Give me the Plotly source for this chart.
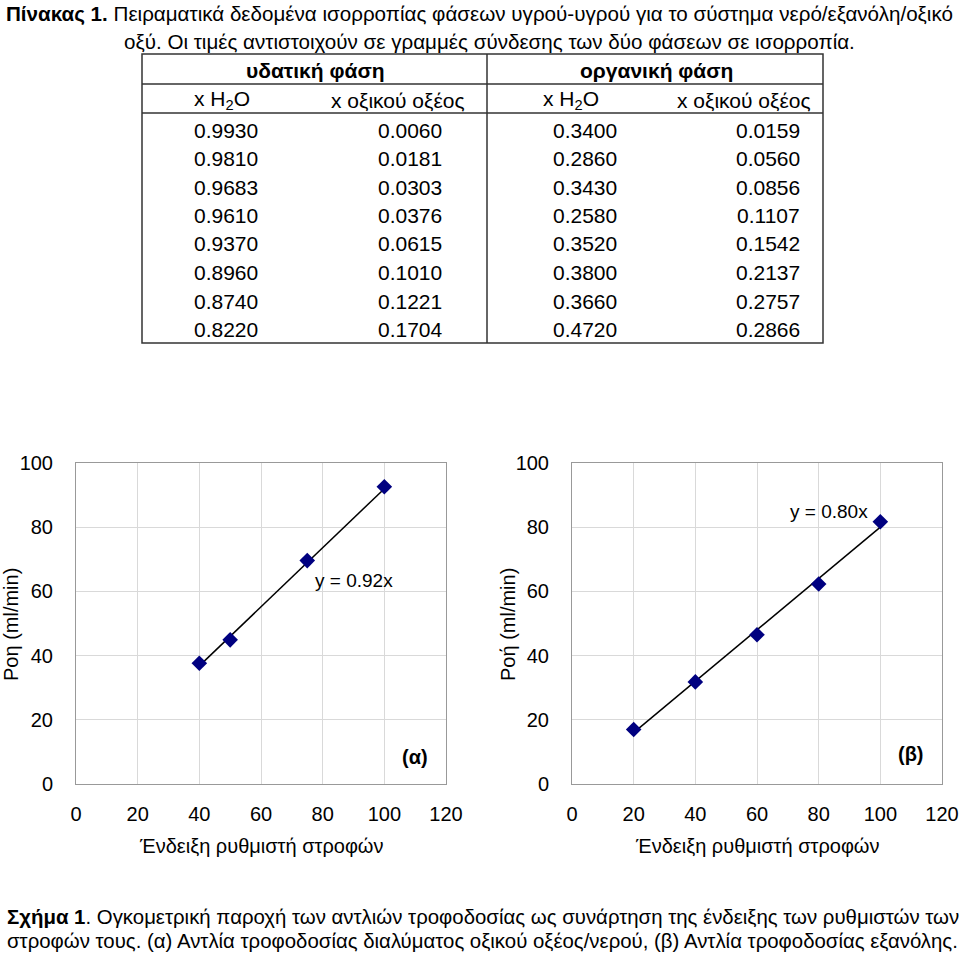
import plotly.graph_objects as go

# ---------------- data ----------------
aq_h2o = ["0.9930", "0.9810", "0.9683", "0.9610", "0.9370", "0.8960", "0.8740", "0.8220"]
aq_acid = ["0.0060", "0.0181", "0.0303", "0.0376", "0.0615", "0.1010", "0.1221", "0.1704"]
org_h2o = ["0.3400", "0.2860", "0.3430", "0.2580", "0.3520", "0.3800", "0.3660", "0.4720"]
org_acid = ["0.0159", "0.0560", "0.0856", "0.1107", "0.1542", "0.2137", "0.2757", "0.2866"]
group_headers = ["υδατική φάση", "οργανική φάση"]
col_headers = ["x H<sub>2</sub>O", "x οξικού οξέος", "x H<sub>2</sub>O", "x οξικού οξέος"]

rotor_a = [40, 50, 75, 100]
flow_a = [37.6, 44.9, 69.6, 92.6]
slope_a = 0.92
rotor_b = [20, 40, 60, 80, 100]
flow_b = [17.0, 31.8, 46.5, 62.3, 81.7]
slope_b = 0.80

x_ticks = [0, 20, 40, 60, 80, 100, 120]
y_ticks = [0, 20, 40, 60, 80, 100]

W, H = 960, 956
FONT = "Arial, Liberation Sans, sans-serif"


def px(x):
    return x / W


def py(y):
    return 1 - y / H


fig = go.Figure()

# ---------------- charts ----------------
navy = "#000080"
for i, (xs, ys, k) in enumerate([(rotor_a, flow_a, slope_a), (rotor_b, flow_b, slope_b)]):
    xa = "x" if i == 0 else "x2"
    ya = "y" if i == 0 else "y2"
    x0, x1 = min(xs), max(xs)
    fig.add_trace(go.Scatter(x=[x0, x1], y=[k * x0, k * x1], mode="lines",
                             line=dict(color="black", width=1.5),
                             xaxis=xa, yaxis=ya, showlegend=False, hoverinfo="skip"))
    fig.add_trace(go.Scatter(x=xs, y=ys, mode="markers",
                             marker=dict(symbol="diamond", size=12, color=navy,
                                         line=dict(color=navy, width=0)),
                             xaxis=xa, yaxis=ya, showlegend=False))

axis_common = dict(range=[0, 120], tickvals=x_ticks, showgrid=True, gridcolor="#d9d9d9",
                   gridwidth=1, showline=True, linecolor="#999999", linewidth=1, mirror=True,
                   zeroline=False, tickfont=dict(family=FONT, size=20, color="black"),
                   ticks="", ticklabelstandoff=12, fixedrange=True, automargin=False)
yaxis_common = dict(range=[0, 100], tickvals=y_ticks, showgrid=True, gridcolor="#d9d9d9",
                    gridwidth=1, showline=True, linecolor="#999999", linewidth=1, mirror=True,
                    zeroline=False, tickfont=dict(family=FONT, size=20, color="black"),
                    ticks="", ticklabelstandoff=18, fixedrange=True, automargin=False)

plot_top, plot_bottom = 463, 784
left_plot = (76, 446)
right_plot = (572, 942)

fig.update_layout(
    xaxis=dict(domain=[px(left_plot[0]), px(left_plot[1])], anchor="y", **axis_common),
    yaxis=dict(domain=[py(plot_bottom), py(plot_top)], anchor="x", **yaxis_common),
    xaxis2=dict(domain=[px(right_plot[0]), px(right_plot[1])], anchor="y2", **axis_common),
    yaxis2=dict(domain=[py(plot_bottom), py(plot_top)], anchor="x2", **yaxis_common),
)

ann = []


def txt(x, y, text, size, xref="paper", yref="paper", xanchor="center", angle=0):
    ann.append(dict(x=x, y=y, xref=xref, yref=yref, text=text, showarrow=False,
                    xanchor=xanchor, yanchor="middle", textangle=angle,
                    font=dict(family=FONT, size=size, color="black")))


# equation and panel labels (data coordinates)
txt(90, 63.5, "y = 0.92x", 19, "x", "y")
txt(110, 8.5, "<b>(α)</b>", 20, "x", "y")
txt(83.5, 85, "y = 0.80x", 19, "x2", "y2")
txt(110, 9.5, "<b>(β)</b>", 20, "x2", "y2")

# axis titles
for cx, ytxt in [(11, "Ροη (ml/min)"), (508, "Ροή (ml/min)")]:
    txt(px(cx), py(625), ytxt, 20, angle=-90)
for lo, hi in [left_plot, right_plot]:
    txt(px((lo + hi) / 2), py(846), "Ένδειξη ρυθμιστή στροφών", 20)

# ---------------- title ----------------
txt(px(479), py(14), "<b>Πίνακας 1.</b> Πειραματικά δεδομένα ισορροπίας φάσεων υγρού-υγρού για το σύστημα νερό/εξανόλη/οξικό", 20.6)
txt(px(490), py(42), "οξύ. Οι τιμές αντιστοιχούν σε γραμμές σύνδεσης των δύο φάσεων σε ισορροπία.", 20.6)

# ---------------- table ----------------
t_left, t_mid, t_right = 142, 487, 823
t_top, t_h1, t_h2, t_bot = 54, 84, 113, 343
shapes = []
shapes.append(dict(type="rect", xref="paper", yref="paper", x0=px(t_left), x1=px(t_right),
                   y0=py(t_bot), y1=py(t_top), line=dict(color="#333333", width=1.5)))
shapes.append(dict(type="line", xref="paper", yref="paper", x0=px(t_mid), x1=px(t_mid),
                   y0=py(t_bot), y1=py(t_top), line=dict(color="#333333", width=1.5)))
for yy in [t_h1, t_h2]:
    shapes.append(dict(type="line", xref="paper", yref="paper", x0=px(t_left), x1=px(t_right),
                       y0=py(yy), y1=py(yy), line=dict(color="#333333", width=1.5)))

for cx, t in zip([315, 656], group_headers):
    txt(px(cx), py(70), "<b>" + t + "</b>", 21)
col_x = [226, 410, 585, 768]
hdr_x = [222, 398, 571, 744]
for cx, t in zip(hdr_x, col_headers):
    txt(px(cx), py(100), t, 21)
row_y = [130, 158, 187, 215, 244, 272, 301, 329]
for cx, col in zip(col_x, [aq_h2o, aq_acid, org_h2o, org_acid]):
    for ry, v in zip(row_y, col):
        txt(px(cx), py(ry), v, 21)

# ---------------- caption ----------------
txt(px(5), py(917), "<b>Σχήμα 1</b>. Ογκομετρική παροχή των αντλιών τροφοδοσίας ως συνάρτηση της ένδειξης των ρυθμιστών των", 20.4, xanchor="left")
txt(px(5), py(941), "στροφών τους. (α) Αντλία τροφοδοσίας διαλύματος οξικού οξέος/νερού, (β) Αντλία τροφοδοσίας εξανόλης.", 20.4, xanchor="left")

fig.update_layout(width=W, height=H, margin=dict(l=0, r=0, t=0, b=0, pad=0, autoexpand=False),
                  paper_bgcolor="white", plot_bgcolor="white",
                  annotations=ann, shapes=shapes, showlegend=False)

fig.write_html("out.html", config={"responsive": False, "displayModeBar": False},
               post_script="document.body.style.margin='0';document.body.style.overflow='hidden';"
                           "document.documentElement.style.overflow='hidden';")
